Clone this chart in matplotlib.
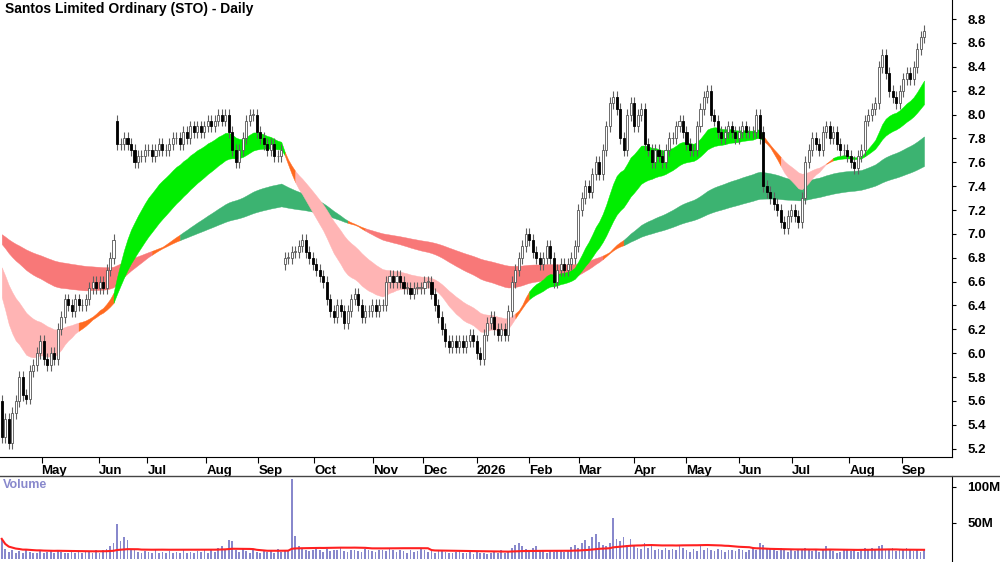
import numpy as np
import pandas as pd
import matplotlib
matplotlib.use("Agg")
import matplotlib.pyplot as plt
from matplotlib.lines import Line2D

plt.rcParams['font.family'] = ['Liberation Sans', 'DejaVu Sans']

title = "Santos Limited Ordinary (STO) - Daily"

# prior closes (warm-up for the averages, not drawn)
warmup = [7.1]*120 + [7.05, 7.0, 6.95, 6.9, 6.85, 6.8, 6.75, 6.7, 6.6, 6.5,
                      6.3, 6.0, 5.6]

closes = [
    5.3,5.45,5.25,5.5,5.6,5.8,5.65,5.62,5.85,5.9,
    6.0,6.1,5.95,5.9,6.0,5.95,6.2,6.3,6.45,6.4,
    6.35,6.45,6.4,6.4,6.45,6.55,6.6,6.55,6.6,6.55,
    6.7,6.8,6.95,7.75,7.75,7.8,7.75,7.7,7.6,7.65,
    7.65,7.7,7.7,7.65,7.7,7.75,7.7,7.7,7.75,7.8,
    7.8,7.75,7.85,7.8,7.9,7.85,7.9,7.85,7.9,7.95,
    7.9,7.95,8.0,7.95,8.0,7.85,7.7,7.6,7.7,7.8,
    7.95,8.0,8.0,7.85,7.8,7.75,7.7,7.75,7.65,7.65,
    7.7,6.8,6.8,6.85,6.85,6.9,6.95,6.85,6.8,6.75,
    6.7,6.65,6.6,6.45,6.35,6.3,6.4,6.35,6.25,6.35,
    6.45,6.5,6.4,6.3,6.35,6.35,6.4,6.35,6.4,6.4,
    6.6,6.65,6.6,6.65,6.6,6.55,6.55,6.5,6.55,6.55,
    6.55,6.6,6.6,6.5,6.4,6.3,6.2,6.1,6.05,6.1,
    6.05,6.1,6.05,6.1,6.15,6.1,6.0,5.95,6.15,6.25,
    6.3,6.2,6.15,6.2,6.15,6.35,6.6,6.7,6.8,6.9,
    7.0,6.95,6.85,6.8,6.75,6.8,6.9,6.8,6.6,6.7,
    6.75,6.7,6.75,6.8,6.9,7.2,7.3,7.4,7.35,7.5,
    7.6,7.5,7.7,7.9,8.1,8.15,8.05,7.8,7.7,8.0,
    8.1,7.9,8.0,8.05,7.75,7.7,7.6,7.7,7.65,7.6,
    7.7,7.8,7.8,7.9,7.95,7.85,7.75,7.7,7.7,7.9,
    8.05,8.15,8.2,8.0,7.95,7.85,7.8,7.85,7.9,7.85,
    7.8,7.85,7.9,7.85,7.85,7.85,8.0,7.8,7.4,7.35,
    7.3,7.25,7.2,7.1,7.05,7.15,7.2,7.15,7.1,7.3,
    7.6,7.7,7.8,7.75,7.7,7.85,7.9,7.8,7.85,7.75,
    7.7,7.7,7.65,7.6,7.55,7.65,7.7,7.95,8.0,8.05,
    8.1,8.4,8.5,8.35,8.2,8.15,8.1,8.2,8.3,8.35,
    8.3,8.4,8.55,8.65,8.7,
]
# opens that gap away from the previous close
gap_opens = {33: 7.95, 81: 6.75, 218: 7.85}
wick = 0.05

volumes = [
    28,14,10,12,9,11,8,13,10,9, 9,12,8,10,11,9,13,10,8,9,
    12,9,10,8,11,10,9,13,9,12, 14,18,22,48,25,30,27,14,12,10,
    9,11,10,8,12,9,10,8,11,9, 10,9,12,8,10,9,11,10,13,9,
    12,10,15,18,14,27,25,12,10,14, 11,9,12,10,9,11,10,12,9,14,
    10,12,13,111,32,18,14,12,11,13, 15,12,10,14,11,13,12,15,11,10,
    12,13,11,10,14,12,11,10,13,12, 11,14,12,10,13,11,9,12,10,11,
    14,12,10,11,9,13,12,10,8,9, 10,11,8,9,12,7,10,9,8,7,
    8,10,9,12,8,10,16,20,22,18, 14,12,15,18,11,13,9,12,10,11,
    13,10,12,17,20,15,22,26,18,30, 35,24,20,18,22,57,28,25,30,20,
    28,18,16,14,22,15,18,12,14,13, 16,12,14,13,18,15,12,10,14,11,
    20,13,15,12,11,14,12,10,13,12, 11,14,12,10,13,15,12,22,19,14,
    16,13,11,15,12,10,13,11,12,14, 15,12,11,14,10,13,18,12,11,9,
    10,12,14,11,13,10,12,15,13,16, 14,18,20,13,12,15,11,14,13,16,
    12,11,13,10,12,
]

month_labels = ["May","Jun","Jul","Aug","Sep","Oct","Nov","Dec","2026",
                "Feb","Mar","Apr","May","Jun","Jul","Aug","Sep"]
month_pos = [11.4,27.7,41.7,58.6,73.4,89.4,106.3,120.6,136.0,
             150.9,165.1,180.9,196.0,211.1,226.3,242.6,257.7]
price_ticks = [5.2,5.4,5.6,5.8,6.0,6.2,6.4,6.6,6.8,7.0,7.2,7.4,7.6,7.8,8.0,8.2,8.4,8.6,8.8]

short_spans = [18,21,24,27,31,35]
long_spans = [80,90,100,115,130,150]

# ---------- computation ----------
n = len(closes)
allc = pd.Series(warmup + closes)
x = np.arange(n)
c = np.array(closes)
o = np.concatenate([[warmup[-1]], c[:-1]])
for k, v in gap_opens.items():
    o[k] = v
hi = np.maximum(o, c) + wick
lo = np.minimum(o, c) - wick

def ribbon(spans):
    m = np.array([allc.ewm(span=s, adjust=False).mean().values[len(warmup):] for s in spans])
    d = np.diff(m, axis=0)
    state = np.where((d < 0).all(axis=0), 1, np.where((d > 0).all(axis=0), -1, 0))
    return m.min(axis=0), m.max(axis=0), state

fig = plt.figure(figsize=(10, 5.62), dpi=100)
ax = fig.add_axes([0, 1 - 457/562, 0.952, 457/562])
axv = fig.add_axes([0, 0, 0.952, 86/562])

def draw_ribbon(spans, colors):
    lo_, hi_, st = ribbon(spans)
    start = 0
    for i in range(1, n + 1):
        if i == n or st[i] != st[start]:
            end = min(i + 1, n)
            ax.fill_between(x[start:end], lo_[start:end], hi_[start:end],
                            color=colors[st[start]], lw=0.3, ec=colors[st[start]], zorder=1)
            start = i

draw_ribbon(long_spans, {1: '#3cb371', -1: '#f87878', 0: '#ff6a20'})
draw_ribbon(short_spans, {1: '#00ee00', -1: '#ffb4b4', 0: '#ff6a20'})

w = 0.6
for i in range(n):
    ax.vlines(x[i], lo[i], hi[i], color='#606060', lw=0.8, zorder=2)
    b0, b1 = min(o[i], c[i]), max(o[i], c[i])
    up = c[i] >= o[i]
    ax.add_patch(plt.Rectangle((x[i]-w/2, b0), w, max(b1-b0, 0.006),
                 fc='white' if up else 'black', ec='#555555' if up else 'black',
                 lw=0.6, zorder=3))

ax.set_xlim(-0.5, 272)
ax.set_ylim(5.13, 8.96)
ax.yaxis.tick_right()
ax.set_yticks(price_ticks)
ax.set_yticklabels([f"{t:.1f}" for t in price_ticks], fontweight='bold', fontsize=9.5)
ax.set_xticks(month_pos)
ax.set_xticklabels(month_labels, fontweight='bold', fontsize=9.5, ha='left')
ax.tick_params(axis='x', length=4, direction='out', pad=2)
ax.tick_params(axis='y', length=3, direction='out', pad=8)
for s in ['top', 'left']:
    ax.spines[s].set_visible(False)
ax.text(0.005, 0.995, title, transform=ax.transAxes, ha='left', va='top',
        fontsize=10, fontweight='bold')

vol = np.array(volumes)
axv.bar(x, vol, width=0.5, color='#8888cc', zorder=2)
ma = pd.Series(vol).rolling(40, min_periods=1).mean()
axv.plot(x, ma, color='#ff2020', lw=1.5, zorder=3)
axv.set_xlim(-0.5, 272)
axv.set_ylim(-4, 115)
axv.yaxis.tick_right()
axv.set_yticks([50, 100])
axv.set_yticklabels(["50M", "100M"], fontweight='bold', fontsize=9.5)
axv.tick_params(axis='y', length=3, pad=8)
axv.set_xticks([])
for s in ['top', 'left', 'bottom']:
    axv.spines[s].set_visible(False)
axv.text(0.003, 0.97, "Volume", transform=axv.transAxes, ha='left', va='top',
         fontsize=9, fontweight='bold', color='#8888cc')
fig.add_artist(Line2D([0, 1], [86/562, 86/562], color='#444444', lw=1))

fig.savefig("out.png", dpi=100)
